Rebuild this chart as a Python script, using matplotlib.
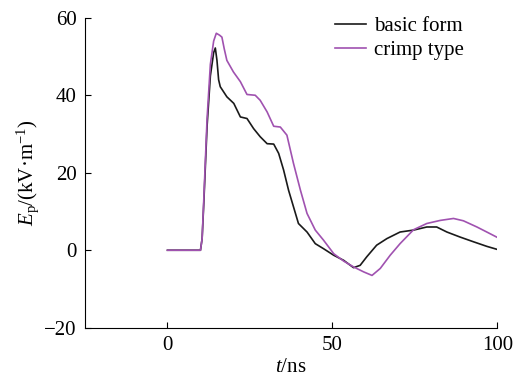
import matplotlib
matplotlib.use("Agg")
import matplotlib.pyplot as plt

plt.rcParams['font.family'] = 'Liberation Serif'
plt.rcParams['mathtext.fontset'] = 'custom'
plt.rcParams['mathtext.rm'] = 'Liberation Serif'
plt.rcParams['mathtext.it'] = 'Liberation Serif:italic'

t_basic = [0, 10, 10.5, 11, 12, 13, 14, 14.5, 15, 15.5, 16, 18, 20.1, 22.1, 24.1, 26.1, 28.1, 30.2,
           32.2, 33.7, 35.2, 36.7, 38.2, 39.7, 42.3, 44.8, 47.3, 50.4, 53.4, 56.4, 58.4,
           60.4, 63.4, 66.5, 70.5, 74.6, 78.6, 81.6, 84.7, 88.7, 92.7, 96.8, 100]
e_basic = [0, 0, 3, 12, 32, 45, 51, 52.2, 49, 44, 42.2, 39.6, 37.9, 34.4, 34.0, 31.4, 29.3, 27.5,
           27.4, 25.0, 20.7, 15.5, 11.2, 6.9, 4.7, 1.7, 0.4, -1.3, -2.6, -4.5, -3.9,
           -1.7, 1.3, 3.0, 4.7, 5.2, 6.0, 6.0, 4.7, 3.4, 2.2, 1.0, 0.2]

t_crimp = [0, 10, 10.5, 11, 12, 13, 14, 14.8, 15.8, 16.5, 17.2, 18, 20, 22.1, 24.1, 26.6, 28.1,
           30.2, 32.2, 34.2, 36.2, 38.2, 40.3, 42.3, 44.8, 47.3, 50.4, 53.4, 56.4, 59.5,
           62, 64.5, 67.5, 70.5, 74.6, 78.6, 82.7, 86.7, 89.7, 93.8, 96.8, 100]
e_crimp = [0, 0, 3, 13, 34, 48, 54, 56.0, 55.5, 55.0, 52, 49.0, 46.0, 43.5, 40.2, 40.0, 38.7,
           35.7, 32.0, 31.8, 29.7, 22.4, 15.5, 9.5, 5.2, 2.6, -0.9, -2.8, -4.3, -5.6,
           -6.5, -4.7, -1.3, 1.7, 5.3, 6.9, 7.7, 8.2, 7.6, 6.0, 4.7, 3.3]

fig = plt.figure(figsize=(5.28, 3.78), dpi=100)
ax = fig.add_axes([0.161, 0.133, 0.781, 0.82])
ax.plot(t_basic, e_basic, color='#1a1a1a', lw=1.2, label='basic form')
ax.plot(t_crimp, e_crimp, color='#a052b0', lw=1.2, label='crimp type')
ax.set_xlim(-25, 100)
ax.set_ylim(-20, 60)
ax.set_xticks([0, 50, 100])
ax.set_yticks([-20, 0, 20, 40, 60])
ax.set_yticklabels(['\u221220', '0', '20', '40', '60'])
ax.spines['top'].set_visible(False)
ax.spines['right'].set_visible(False)
ax.tick_params(direction='in', labelsize=15, length=4, pad=6)
ax.set_xlabel('$t$/ns', fontsize=15, labelpad=2)
ax.set_ylabel('$E_\\mathrm{p}$/(kV\u00b7m$^{-1}$)', fontsize=15, labelpad=2)
ax.legend(loc='upper right', bbox_to_anchor=(0.94, 1.03), frameon=False, fontsize=15,
          handlelength=1.5, handletextpad=0.4, borderaxespad=0, labelspacing=0.2)
fig.savefig('out.png', dpi=100)
